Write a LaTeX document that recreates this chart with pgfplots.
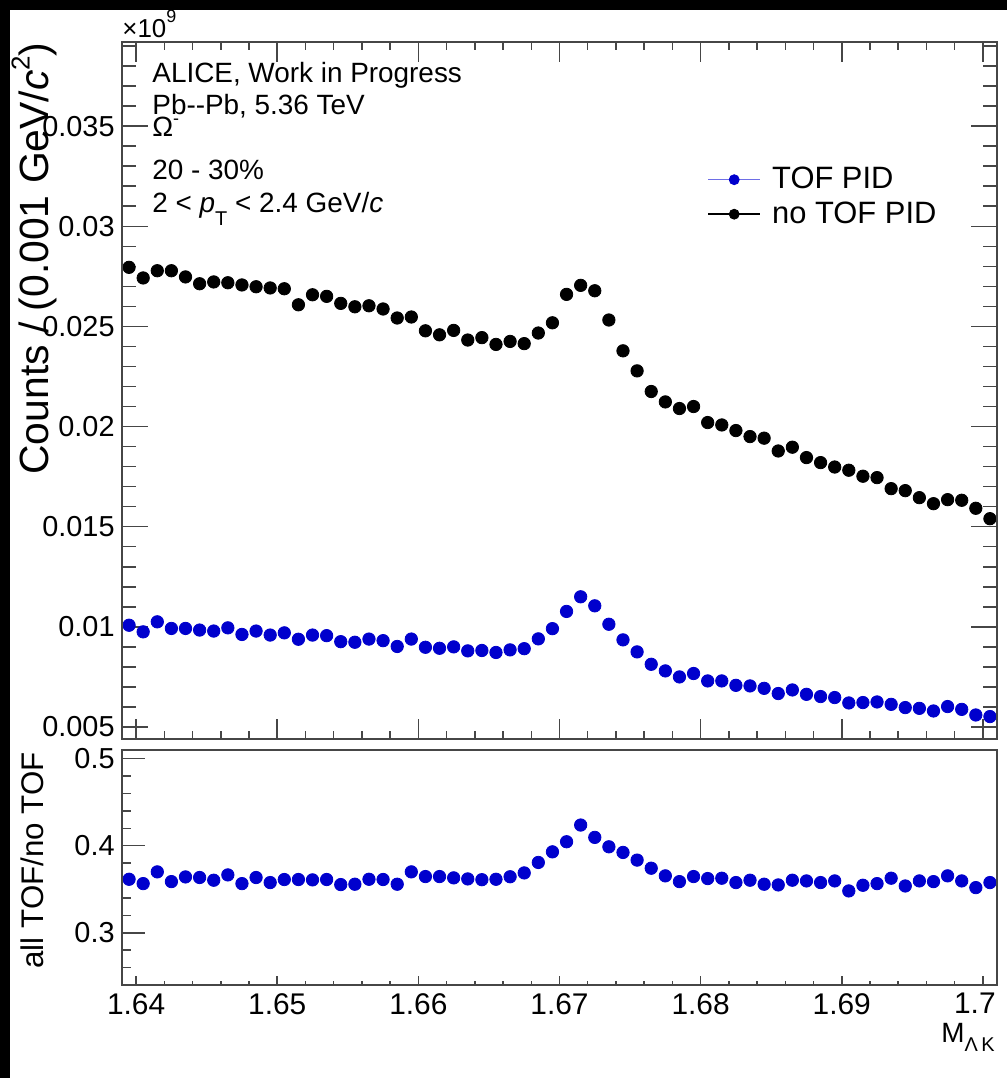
\documentclass[border=0pt]{standalone}
\usepackage{pgfplots}
\usepackage{pgfplotstable}
\pgfplotsset{compat=1.18}
\usepackage{fontspec}
\setmainfont{Liberation Sans}
\definecolor{rootblue}{RGB}{0,0,205}
\definecolor{framegray}{RGB}{70,70,70}

\pgfplotstableread{
x notof tof ratio
1.6395 0.02795 0.01008 0.3615
1.6405 0.02742 0.00975 0.3565
1.6415 0.02778 0.01025 0.3700
1.6425 0.02778 0.00992 0.3588
1.6435 0.02747 0.00992 0.3642
1.6445 0.02713 0.00984 0.3635
1.6455 0.02722 0.00979 0.3604
1.6465 0.02718 0.00995 0.3665
1.6475 0.02707 0.00962 0.3565
1.6485 0.02698 0.00979 0.3635
1.6495 0.02692 0.00959 0.3577
1.6505 0.02688 0.00970 0.3612
1.6515 0.02608 0.00938 0.3612
1.6525 0.02658 0.00959 0.3608
1.6535 0.02650 0.00956 0.3612
1.6545 0.02615 0.00926 0.3554
1.6555 0.02598 0.00923 0.3558
1.6565 0.02603 0.00939 0.3615
1.6575 0.02587 0.00931 0.3612
1.6585 0.02542 0.00902 0.3558
1.6595 0.02547 0.00939 0.3700
1.6605 0.02478 0.00898 0.3646
1.6615 0.02458 0.00893 0.3646
1.6625 0.02480 0.00900 0.3631
1.6635 0.02432 0.00880 0.3619
1.6645 0.02444 0.00882 0.3610
1.6655 0.02410 0.00872 0.3615
1.6665 0.02425 0.00885 0.3644
1.6675 0.02414 0.00891 0.3688
1.6685 0.02467 0.00940 0.3808
1.6695 0.02518 0.00991 0.3930
1.6705 0.02660 0.01077 0.4046
1.6715 0.02705 0.01150 0.4238
1.6725 0.02678 0.01105 0.4096
1.6735 0.02532 0.01013 0.3988
1.6745 0.02378 0.00935 0.3923
1.6755 0.02278 0.00875 0.3835
1.6765 0.02175 0.00813 0.3742
1.6775 0.02123 0.00780 0.3654
1.6785 0.02090 0.00750 0.3588
1.6795 0.02100 0.00767 0.3646
1.6805 0.02020 0.00730 0.3623
1.6815 0.02008 0.00730 0.3627
1.6825 0.01980 0.00708 0.3577
1.6835 0.01950 0.00705 0.3604
1.6845 0.01942 0.00693 0.3558
1.6855 0.01878 0.00667 0.3550
1.6865 0.01897 0.00685 0.3604
1.6875 0.01845 0.00663 0.3596
1.6885 0.01820 0.00652 0.3577
1.6895 0.01798 0.00647 0.3596
1.6905 0.01782 0.00620 0.3481
1.6915 0.01752 0.00622 0.3546
1.6925 0.01745 0.00625 0.3565
1.6935 0.01690 0.00613 0.3627
1.6945 0.01680 0.00597 0.3538
1.6955 0.01645 0.00593 0.3596
1.6965 0.01615 0.00580 0.3588
1.6975 0.01635 0.00602 0.3654
1.6985 0.01632 0.00588 0.3596
1.6995 0.01592 0.00560 0.3519
1.7005 0.01540 0.00552 0.3577
}\datatable

\pgfplotsset{
  rootframe/.style={
    scale only axis, width=437.5bp,
    xmin=1.639, xmax=1.701,
    scaled x ticks=false, scaled y ticks=false,
    axis line style={draw=framegray, line width=1pt},
    tick align=inside,
    tick style={draw=framegray, line width=0.75pt},
  },
}

\begin{document}
\begin{tikzpicture}
\fill[black] (0,0) rectangle (503.5bp,-539bp);
\fill[white] (5bp,-5bp) rectangle (503.5bp,-539bp);

% ---------------- upper panel: data + y ticks
\begin{axis}[rootframe,
  at={(61bp,-21bp)}, anchor=north west, height=348.5bp,
  ymin=0.0044, ymax=0.0392,
  xtick=\empty, minor xtick={},
  ytick={0.005,0.01,0.015,0.02,0.025,0.03,0.035},
  yticklabels={0.005,0.01,0.015,0.02,0.025,0.03,0.035},
  minor ytick={0.006,0.007,0.008,0.009,0.011,0.012,0.013,0.014,0.016,0.017,0.018,0.019,0.021,0.022,0.023,0.024,0.026,0.027,0.028,0.029,0.031,0.032,0.033,0.034,0.036,0.037,0.038,0.039},
  ytick pos=both,
  major tick length=13bp, minor tick length=7bp,
  yticklabel style={font=\fontsize{14.5}{17}\selectfont, inner sep=0pt, xshift=-3.5bp},
  legend style={draw=none, fill=none, at={(0.6686,0.8235)}, anchor=north west,
    font=\fontsize{15.5}{18}\selectfont, row sep=3pt, inner sep=0pt,
    nodes={inner sep=1pt}},
  legend cell align=left,
]
\addplot[only marks, mark=*, mark size=3.1bp, color=rootblue,
  legend image code/.code={\path[draw=none, fill=none] (0bp,0bp) -- (31bp,0bp); \draw[color={rgb,255:red,110;green,110;blue,230}, line width=0.8pt] (0bp,0bp) -- (26bp,0bp); \fill[rootblue] (13bp,0bp) circle (2.5bp);}]
  table[x=x, y=tof] {\datatable};
\addlegendentry{TOF PID}
\addplot[only marks, mark=*, mark size=3.1bp, color=black,
  legend image code/.code={\path[draw=none, fill=none] (0bp,0bp) -- (31bp,0bp); \draw[black, line width=0.8pt] (0bp,0bp) -- (26bp,0bp); \fill[black] (13bp,0bp) circle (2.5bp);}]
  table[x=x, y=notof] {\datatable};
\addlegendentry{no TOF PID}
\end{axis}

% ---------------- upper panel: x ticks
\begin{axis}[rootframe,
  at={(61bp,-21bp)}, anchor=north west, height=348.5bp,
  ymin=0.0044, ymax=0.0392,
  ytick=\empty, minor ytick={},
  xtick={1.64,1.65,1.66,1.67,1.68,1.69,1.7},
  xticklabels={},
  minor xtick={1.642,1.644,1.646,1.648,1.652,1.654,1.656,1.658,1.662,1.664,1.666,1.668,1.672,1.674,1.676,1.678,1.682,1.684,1.686,1.688,1.692,1.694,1.696,1.698},
  xtick pos=both,
  major tick length=10bp, minor tick length=4bp,
]
\end{axis}

% ---------------- lower panel: data + y ticks
\begin{axis}[rootframe,
  at={(61bp,-375bp)}, anchor=north west, height=117.5bp,
  ymin=0.24, ymax=0.51,
  xtick=\empty, minor xtick={},
  ytick={0.3,0.4,0.5},
  yticklabels={0.3,0.4,0.5},
  minor ytick={0.26,0.28,0.32,0.34,0.36,0.38,0.42,0.44,0.46,0.48},
  ytick pos=left,
  major tick length=11.5bp, minor tick length=4.5bp,
  yticklabel style={font=\fontsize{14.5}{17}\selectfont, inner sep=0pt, xshift=-3.5bp},
]
\addplot[only marks, mark=*, mark size=3.1bp, color=rootblue]
  table[x=x, y=ratio] {\datatable};
\end{axis}

% ---------------- lower panel: x ticks + labels
\begin{axis}[rootframe,
  at={(61bp,-375bp)}, anchor=north west, height=117.5bp,
  ymin=0.24, ymax=0.51,
  ytick=\empty, minor ytick={},
  xtick={1.64,1.65,1.66,1.67,1.68,1.69,1.7},
  xticklabels={1.64,1.65,1.66,1.67,1.68,1.69,\hspace{-8bp}1.7},
  minor xtick={1.642,1.644,1.646,1.648,1.652,1.654,1.656,1.658,1.662,1.664,1.666,1.668,1.672,1.674,1.676,1.678,1.682,1.684,1.686,1.688,1.692,1.694,1.696,1.698},
  xtick pos=left,
  major tick length=4.5bp, minor tick length=2bp,
  xticklabel style={font=\fontsize{15}{17}\selectfont, inner sep=0pt, yshift=-4bp},
]
\end{axis}

% ---------------- texts (pixel coordinates)
\begin{scope}[x=0.5bp, y=-0.5bp]
\node[anchor=base west, inner sep=0pt, font=\fontsize{13}{15}\selectfont] at (122,37)
  {×10\raisebox{0.55em}{\fontsize{9}{10}\selectfont 9}};
\begin{scope}[every node/.style={anchor=base west, inner sep=0pt, font=\fontsize{14}{17}\selectfont}]
\node at (152,83) {ALICE, Work in Progress};
\node at (152,115) {Pb-{}-Pb, 5.36 TeV};
\node at (152,137) {Ω\raisebox{0.45em}{\fontsize{9}{10}\selectfont -}};
\node at (152,180) {20 - 30\%};
\node at (152,213) {2 < \textit{p}\raisebox{-0.45em}{\fontsize{10}{12}\selectfont T} < 2.4 GeV/\textit{c}};
\end{scope}
\node[rotate=90, anchor=base east, inner sep=0pt, font=\fontsize{20.5}{24}\selectfont] at (48,42)
  {Counts / (0.001 GeV/\textit{c}\raisebox{0.45em}{\fontsize{13}{15}\selectfont 2})};
\node[rotate=90, anchor=base east, inner sep=0pt, font=\fontsize{15.7}{18}\selectfont] at (43,752)
  {all TOF/no TOF};
\node[anchor=base east, inner sep=0pt, font=\fontsize{14}{17}\selectfont] at (995,1043)
  {M\raisebox{-0.3em}{\fontsize{10}{12}\selectfont Λ\,K}};
\end{scope}
\pgfresetboundingbox
\useasboundingbox (0,0) rectangle (503.5bp,-539bp);
\end{tikzpicture}
\end{document}
